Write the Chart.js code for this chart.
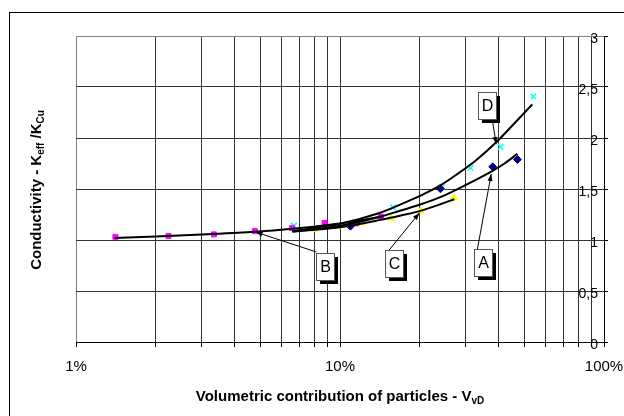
<!DOCTYPE html>
<html><head><meta charset="utf-8">
<script src="https://cdn.jsdelivr.net/npm/chart.js@4/dist/chart.umd.min.js"></script>
<style>html,body{margin:0;padding:0;background:#fff}#wrap{width:624px;height:416px;position:relative}canvas{display:block}</style>
</head><body><div id="wrap"><canvas id="c" width="624" height="416"></canvas></div>
<script>
// ---- axis ticks ----
const xTicks = [1,2,3,4,5,6,7,8,9,10,20,30,40,50,60,70,80,90,100];
const xTickLabels = {1:'1%', 10:'10%', 100:'100%'};
const yTicks = [0,0.5,1,1.5,2,2.5,3];
const yTickLabels = ['0','0,5','1','1,5','2','2,5','3'];

// ---- measured points (x in %, y = Keff/KCu) ----
const seriesB_x = [1.41, 2.24, 3.33, 4.76, 6.58, 8.74, 11.5, 14.3];
const seriesB_y = [1.03, 1.04, 1.055, 1.087, 1.117, 1.168, 1.163, 1.23];
const seriesD_x = [6.69, 15.9, 24.3, 31.2, 40.6, 54.0];
const seriesD_y = [1.14, 1.32, 1.515, 1.707, 1.913, 2.407];
const seriesA_x = [10.95, 24.0, 37.9, 47.0];
const seriesA_y = [1.136, 1.503, 1.717, 1.79];
const seriesC_x = [8.01, 9.8, 12.1, 15.6, 20.2, 27.0];
const seriesC_y = [1.104, 1.136, 1.168, 1.211, 1.286, 1.413];

// ---- trend curves ----
const trendB_x = [1.40, 2.0, 3.3, 4.75, 6.6, 8.7, 11.5, 14.5];
const trendB_y = [1.02, 1.035, 1.058, 1.08, 1.11, 1.143, 1.185, 1.232];
const trendD_x = [6.7, 10, 14.1, 17, 20, 23.8, 28.3, 32.7, 39.5, 46, 53.5];
const trendD_y = [1.09, 1.16, 1.265, 1.35, 1.43, 1.53, 1.66, 1.78, 1.97, 2.15, 2.33];
const trendA_x = [6.6, 10, 14.1, 17, 20, 25, 30, 37.4, 42, 47];
const trendA_y = [1.08, 1.14, 1.225, 1.29, 1.345, 1.44, 1.54, 1.67, 1.75, 1.845];
const trendC_x = [6.6, 8, 10, 14.1, 17, 20, 24, 27.1];
const trendC_y = [1.085, 1.10, 1.125, 1.195, 1.24, 1.283, 1.35, 1.40];

// ---- callout labels (anchored in data coordinates) ----
const calloutLabels = ['B', 'C', 'A', 'D'];
const calloutBoxX = [8.74, 16.07, 34.9, 35.97];
const calloutBoxY = [0.745, 0.765, 0.775, 2.319];
const calloutFromX = [8.15, 15.25, 33.1, 37.7];
const calloutFromY = [0.882, 0.892, 0.902, 2.186];
const calloutToX = [4.79, 19.98, 37.4, 39.06];
const calloutToY = [1.078, 1.265, 1.647, 1.94];

const pts = (xs, ys) => xs.map((x, i) => ({x: x, y: ys[i]}));

const FONT = '"Liberation Sans", Arial, sans-serif';

const decorPlugin = {
  id: 'decor',
  beforeDraw(chart) {
    const ctx = chart.ctx;
    ctx.save();
    ctx.fillStyle = '#fff';
    ctx.fillRect(0, 0, chart.width, chart.height);
    ctx.strokeStyle = '#000';
    ctx.lineWidth = 1;
    ctx.strokeRect(9.5, 12.5, 800, 600);
    ctx.restore();
  },
  afterDatasetsDraw(chart) {
    const ctx = chart.ctx;
    const xs = chart.scales.x, ys = chart.scales.y;
    ctx.save();
    for (let i = 0; i < calloutLabels.length; i++) {
      const x0 = xs.getPixelForValue(calloutFromX[i]), y0 = ys.getPixelForValue(calloutFromY[i]);
      const x1 = xs.getPixelForValue(calloutToX[i]), y1 = ys.getPixelForValue(calloutToY[i]);
      ctx.strokeStyle = '#000'; ctx.lineWidth = 1;
      ctx.beginPath(); ctx.moveTo(x0, y0); ctx.lineTo(x1, y1); ctx.stroke();
      const a = Math.atan2(y1 - y0, x1 - x0);
      const L = 7, W = 2.5;
      ctx.fillStyle = '#000';
      ctx.beginPath();
      ctx.moveTo(x1, y1);
      ctx.lineTo(x1 - L * Math.cos(a) + W * Math.sin(a), y1 - L * Math.sin(a) - W * Math.cos(a));
      ctx.lineTo(x1 - L * Math.cos(a) - W * Math.sin(a), y1 - L * Math.sin(a) + W * Math.cos(a));
      ctx.closePath(); ctx.fill();
    }
    const bw = 18, bh = 27, sh = 4;
    for (let i = 0; i < calloutLabels.length; i++) {
      const cx = xs.getPixelForValue(calloutBoxX[i]), cy = ys.getPixelForValue(calloutBoxY[i]);
      const l = Math.round(cx - bw / 2) + 0.5, t = Math.round(cy - bh / 2) + 0.5;
      ctx.fillStyle = '#000';
      ctx.fillRect(l + sh - 0.5, t + sh - 0.5, bw, bh);
      ctx.fillStyle = '#fff';
      ctx.fillRect(l, t, bw, bh);
      ctx.strokeStyle = '#555'; ctx.lineWidth = 1;
      ctx.strokeRect(l, t, bw, bh);
      ctx.fillStyle = '#000';
      ctx.font = '16px ' + FONT;
      ctx.textAlign = 'center'; ctx.textBaseline = 'middle';
      ctx.fillText(calloutLabels[i], l + bw / 2, t + bh / 2 + 1);
    }
    ctx.restore();
  },
  afterDraw(chart) {
    const ctx = chart.ctx;
    ctx.save();
    ctx.fillStyle = '#000';
    ctx.textBaseline = 'alphabetic';
    const main = 'Volumetric contribution of particles - V', sub = 'vD';
    const fMain = 'bold 15px ' + FONT, fSub = 'bold 10px ' + FONT;
    ctx.font = fMain; const w1 = ctx.measureText(main).width;
    ctx.font = fSub; const w2 = ctx.measureText(sub).width;
    let x = 340 - (w1 + w2) / 2, y = 401;
    ctx.font = fMain; ctx.textAlign = 'left'; ctx.fillText(main, x, y);
    ctx.font = fSub; ctx.fillText(sub, x + w1, y + 3);
    const parts = [['Conductivity - K', fMain, 0], ['eff', fSub, 3], [' /K', fMain, 0], ['Cu', fSub, 3]];
    let tot = 0;
    parts.forEach(p => { ctx.font = p[1]; p.push(ctx.measureText(p[0]).width); tot += p[3]; });
    ctx.translate(41, 190);
    ctx.rotate(-Math.PI / 2);
    let px = -tot / 2;
    parts.forEach(p => { ctx.font = p[1]; ctx.fillText(p[0], px, p[2]); px += p[3]; });
    ctx.restore();
  }
};

const lineDs = (xs, ys) => ({
  data: pts(xs, ys), showLine: true, borderColor: '#000', borderWidth: 2,
  pointRadius: 0, cubicInterpolationMode: 'monotone', fill: false, order: 1
});

new Chart(document.getElementById('c'), {
  type: 'scatter',
  data: {
    datasets: [
      lineDs(trendB_x, trendB_y),
      lineDs(trendC_x, trendC_y),
      lineDs(trendA_x, trendA_y),
      lineDs(trendD_x, trendD_y),
      {data: pts(seriesB_x, seriesB_y), pointStyle: 'rect', pointRadius: 3.5, backgroundColor: '#FF00FF', borderColor: '#FF00FF', borderWidth: 1, order: 2},
      {data: pts(seriesC_x, seriesC_y), pointStyle: 'triangle', pointRadius: 4, backgroundColor: '#FFFF00', borderColor: '#FFFF00', borderWidth: 1, order: 2},
      {data: pts(seriesA_x, seriesA_y), pointStyle: 'rectRot', pointRadius: 4, backgroundColor: '#000080', borderColor: '#000080', borderWidth: 1, order: 2},
      {data: pts(seriesD_x, seriesD_y), pointStyle: 'crossRot', pointRadius: 4, backgroundColor: '#00FFFF', borderColor: '#00FFFF', borderWidth: 1.5, order: 2}
    ]
  },
  options: {
    responsive: false, animation: false, devicePixelRatio: 1,
    layout: {padding: {left: 76, top: 36, right: 0, bottom: 0}},
    plugins: {legend: {display: false}, tooltip: {enabled: false}, title: {display: false}},
    scales: {
      x: {
        type: 'logarithmic', position: 'bottom', min: 1, max: 100,
        afterBuildTicks: s => { s.ticks = xTicks.map(v => ({value: v})); },
        afterFit: s => { s.height = 74; s.paddingLeft = 0; s.paddingRight = 0; },
        grid: {color: ctx => (ctx.tick && ctx.tick.value === 1) ? '#808080' : '#333', lineWidth: 1, drawTicks: true, tickLength: 5, tickColor: '#000'},
        border: {color: '#000', width: 1},
        ticks: {autoSkip: false, maxRotation: 0, minRotation: 0, padding: 11, color: '#000',
          font: {family: FONT, size: 15},
          callback: v => xTickLabels[v] || ''}
      },
      y: {
        type: 'linear', position: 'right', min: 0, max: 3,
        afterBuildTicks: s => { s.ticks = yTicks.map(v => ({value: v})); },
        afterFit: s => { s.width = 20; s.paddingTop = 0; s.paddingBottom = 0; },
        grid: {color: ctx => (ctx.tick && ctx.tick.value === 3) ? '#808080' : '#333', lineWidth: 1, drawTicks: true, tickLength: 4, tickColor: '#000'},
        border: {color: '#000', width: 1},
        ticks: {mirror: true, padding: -6, labelOffset: 3, color: '#000', font: {family: FONT, size: 14},
          callback: v => yTickLabels[yTicks.indexOf(v)]}
      }
    }
  },
  plugins: [decorPlugin]
});
</script>
</body></html>
